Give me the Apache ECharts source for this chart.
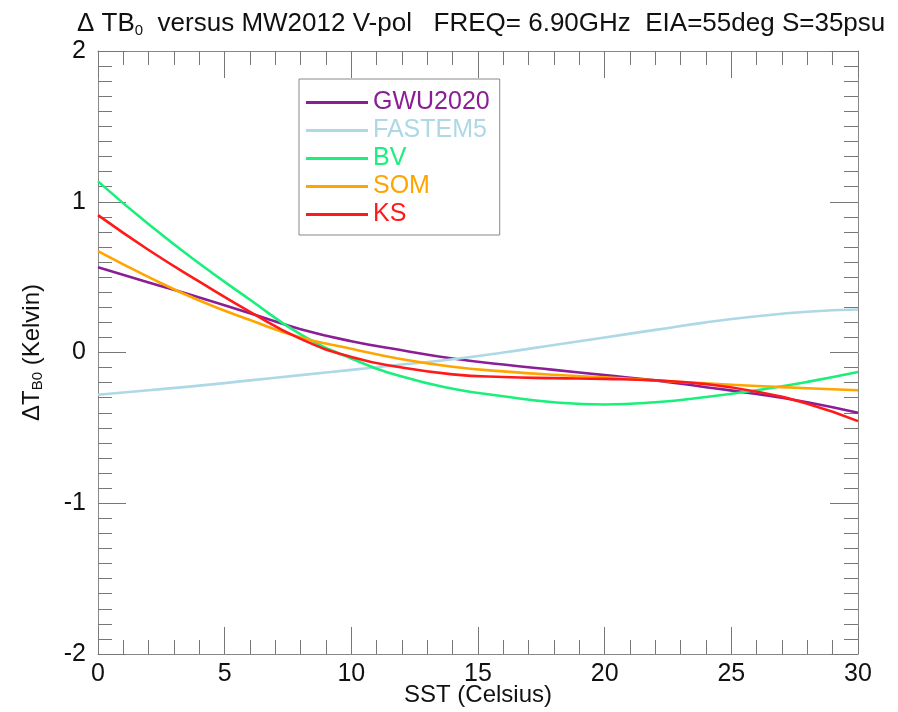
<!DOCTYPE html>
<html><head><meta charset="utf-8">
<script src="https://cdn.jsdelivr.net/npm/echarts@6/dist/echarts.min.js"></script>
<style>html,body{margin:0;padding:0;background:#fff}#c{width:898px;height:712px}</style>
</head><body><div id="c"></div>
<script>
const sst = [0,2,4,6,8,10,12,14,16,18,20,22,24,26,28,30];
const seriesNames = ['GWU2020','FASTEM5','BV','SOM','KS'];
const gwu2020 = [0.565,0.465,0.365,0.26,0.155,0.075,0.015,-0.04,-0.08,-0.115,-0.15,-0.185,-0.23,-0.275,-0.33,-0.40];
const fastem5 = [-0.28,-0.25,-0.22,-0.185,-0.15,-0.115,-0.08,-0.045,0.0,0.05,0.10,0.15,0.20,0.24,0.27,0.285];
const bv      = [1.135,0.85,0.59,0.35,0.12,-0.04,-0.16,-0.24,-0.29,-0.33,-0.345,-0.33,-0.295,-0.25,-0.195,-0.13];
const som     = [0.672,0.50,0.345,0.215,0.10,0.025,-0.045,-0.095,-0.125,-0.148,-0.165,-0.185,-0.205,-0.222,-0.237,-0.25];
const ks      = [0.911,0.68,0.47,0.27,0.09,-0.03,-0.10,-0.145,-0.163,-0.17,-0.175,-0.185,-0.21,-0.26,-0.34,-0.455];
const colors = ['#8b1e96','#add8e6','#19f07c','#ffa500','#ff1a1a'];
const allData = [gwu2020, fastem5, bv, som, ks];
const xTicks = [0,5,10,15,20,25,30];
const yTicks = [-2,-1,0,1,2];

const FONT = 'Liberation Sans, Arial, Helvetica, sans-serif';
const TXT = '#111';
const axisLine = {show:true,onZero:false,lineStyle:{color:'#888',width:1}};
const tickStyle = {color:'#777',width:1};
function xAx(extra){
  return Object.assign({
    type:'value', min:0, max:30, interval:5,
    axisLine:axisLine, splitLine:{show:false},
    axisTick:{show:true,inside:true,length:27,lineStyle:tickStyle},
    minorTick:{show:true,splitNumber:5,length:14,lineStyle:tickStyle},
    minorSplitLine:{show:false}
  }, extra);
}
function yAx(extra){
  return Object.assign({
    type:'value', min:-2, max:2, interval:1,
    axisLine:axisLine, splitLine:{show:false},
    axisTick:{show:true,inside:true,length:28,lineStyle:tickStyle},
    minorTick:{show:true,splitNumber:10,length:14,lineStyle:tickStyle},
    minorSplitLine:{show:false}
  }, extra);
}
const chart = echarts.init(document.getElementById('c'));
chart.setOption({
  animation:false,
  backgroundColor:'#fff',
  title:{
    text:'Δ TB{s|0}  versus MW2012 V-pol   FREQ= 6.90GHz  EIA=55deg S=35psu',
    left:72, top:4,
    textStyle:{fontFamily:FONT,fontSize:26,fontWeight:'normal',color:TXT,
      rich:{s:{fontFamily:FONT,fontSize:15,padding:[14,0,0,0],color:TXT}}}
  },
  legend:{
    orient:'vertical', left:299, top:79,
    borderColor:'#888', borderWidth:1,
    padding:[11,10,8,7],
    itemGap:3, itemWidth:62, itemHeight:3, icon:'rect', itemTextGap:8,
    textStyle:{fontFamily:FONT,fontSize:25,lineHeight:25},
    data: seriesNames.map((n,i)=>({name:n,textStyle:{color:colors[i]}}))
  },
  grid:{left:98,right:40,top:51,bottom:58,outerBoundsMode:'none',containLabel:false},
  xAxis:[xAx({
    name:'SST (Celsius)', nameLocation:'middle', nameGap:29, nameMoveOverlap:false,
    nameTextStyle:{fontFamily:FONT,fontSize:24,color:TXT},
    axisLabel:{fontFamily:FONT,fontSize:25,color:TXT,margin:8,
      formatter:v=>xTicks.includes(v)?String(v):''}
  }), xAx({position:'top', axisLabel:{show:false}})],
  yAxis:[yAx({
    name:'ΔT{s|B0} (Kelvin)', nameLocation:'middle', nameGap:53, nameRotate:90, nameMoveOverlap:false,
    nameTextStyle:{fontFamily:FONT,fontSize:24,color:TXT,
      rich:{s:{fontFamily:FONT,fontSize:15,padding:[11,0,0,0],color:TXT}}},
    axisLabel:{fontFamily:FONT,fontSize:25,color:TXT,margin:12,
      formatter:v=>yTicks.includes(v)?String(v):''}
  }), yAx({position:'right', axisLabel:{show:false}})],
  series: seriesNames.map((n,i)=>({
    name:n, type:'line', smooth:0.5, showSymbol:false, symbol:'none',
    xAxisIndex:0, yAxisIndex:0,
    lineStyle:{color:colors[i],width:2.6}, itemStyle:{color:colors[i]},
    data: sst.map((x,j)=>[x, allData[i][j]])
  }))
});
</script></body></html>
